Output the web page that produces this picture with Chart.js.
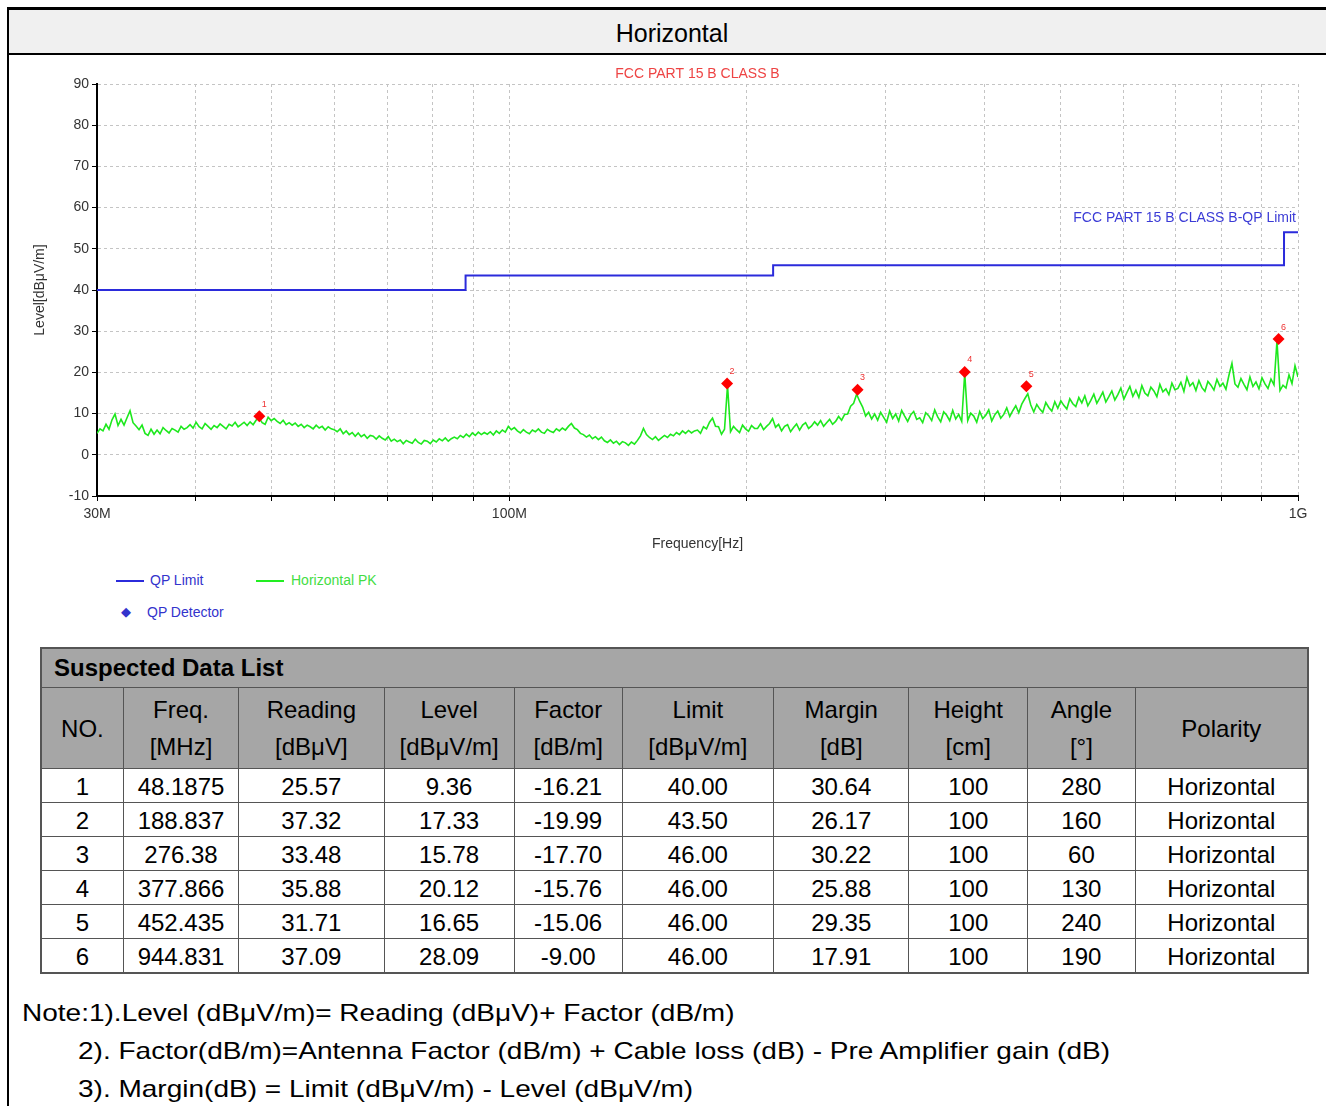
<!DOCTYPE html>
<html>
<head>
<meta charset="utf-8">
<script src="https://cdn.jsdelivr.net/npm/chart.js@4.4.1/dist/chart.umd.min.js"></script>
<style>
  body { margin: 0; width: 1326px; height: 1106px; overflow: hidden; background: #fff; position: relative;
         font-family: "Liberation Sans", Arial, sans-serif; }
  #frame { position: absolute; left: 7px; top: 7px; width: 1340px; height: 1200px;
           border-left: 2px solid #000; border-top: 3px solid #000; }
  #head { position: absolute; left: 9px; top: 10px; width: 1326px; height: 43px; background: #f0f0f0;
          border-bottom: 2px solid #000; text-align: center; font-size: 25px; line-height: 46px; color: #000; }
  #plot { position: absolute; left: 10px; top: 56px; width: 1316px; height: 500px; }
  .lg { position: absolute; font-size: 14px; color: #3333cc; white-space: nowrap; }
  .lgline { position: absolute; height: 2px; width: 28px; }
  #tbl { position: absolute; left: 40px; top: 647px; width: 1269px; border-collapse: collapse;
         font-size: 24px; color: #000; border: 2px solid #555; }
  #tbl td, #tbl th { border: 1px solid #555; text-align: center; padding: 0; font-weight: normal; }
  #tbl .cap { background: #a6a6a6; text-align: left; font-weight: bold; padding-left: 12px; height: 38px; }
  #tbl thead tr.hd th { background: #a6a6a6; height: 80px; line-height: 37px; }
  #tbl tbody td { height: 30px; line-height: 30px; padding-top: 3px; }
  .note { position: absolute; font-size: 24px; color: #000; white-space: nowrap;
          transform: scaleX(1.167); transform-origin: 0 0; }
</style>
</head>
<body>
<div id="frame"></div>
<div id="head">Horizontal</div>
<div id="plot"><canvas id="emi"></canvas></div>

<div class="lgline" style="left:116px;top:580px;background:#2b2bdb"></div>
<div class="lg" style="left:150px;top:572px">QP Limit</div>
<div class="lgline" style="left:256px;top:580px;background:#22ee22"></div>
<div class="lg" style="left:291px;top:572px;color:#44dd44">Horizontal PK</div>
<div class="lg" style="left:121px;top:604px;font-size:13px">&#9670;</div>
<div class="lg" style="left:147px;top:604px">QP Detector</div>

<table id="tbl">
  <thead>
    <tr><th class="cap" colspan="10">Suspected Data List</th></tr>
    <tr class="hd" id="tblHead"></tr>
  </thead>
  <tbody id="tblBody"></tbody>
</table>

<div class="note" style="left:22px;top:999px">Note:1).Level (dBμV/m)= Reading (dBμV)+ Factor (dB/m)</div>
<div class="note" style="left:78px;top:1037px">2). Factor(dB/m)=Antenna Factor (dB/m) + Cable loss (dB) - Pre Amplifier gain (dB)</div>
<div class="note" style="left:78px;top:1075px">3). Margin(dB) = Limit (dBμV/m) - Level (dBμV/m)</div>

<script>
// sweep at equal steps along the log frequency axis (MHz)
const pkStartMHz = 30;
const pkStopMHz = 1000;
const pkLevel = [
  5.2, 6.3, 5.8, 7.4, 6.2, 8.5, 9.9, 7.1, 8.6, 7.2, 9.0, 10.7, 7.8, 7.0, 6.1, 7.2, 5.2, 4.7, 6.2, 5.0,
  6.0, 5.1, 6.6, 5.9, 5.3, 6.4, 6.0, 5.5, 6.9, 6.2, 6.6, 7.3, 6.5, 7.9, 6.8, 6.3, 7.6, 6.9, 6.2, 7.1,
  6.6, 7.5, 6.9, 6.3, 7.4, 7.0, 7.9, 6.8, 7.3, 7.9, 7.1, 8.0, 7.3, 8.4, 8.9, 7.8, 7.4, 9.1, 8.3, 8.8,
  8.1, 7.6, 8.4, 7.3, 7.8, 7.2, 7.7, 6.9, 7.4, 6.6, 7.2, 6.8, 6.3, 7.2, 6.5, 6.9, 6.0, 6.8, 6.3, 6.1,
  5.6, 6.3, 5.1, 5.8, 4.9, 5.4, 4.5, 5.3, 4.4, 4.9, 4.0, 4.7, 4.5, 3.8, 4.6, 4.0, 3.6, 4.4, 3.3, 3.8,
  3.2, 3.6, 2.7, 3.5, 3.1, 2.8, 3.8, 3.0, 2.6, 3.5, 3.3, 2.7, 3.6, 3.1, 3.9, 3.4, 4.1, 3.3, 3.9, 4.3,
  3.9, 4.7, 4.2, 5.0, 4.4, 5.3, 4.7, 5.5, 4.9, 5.4, 5.0, 5.6, 4.8, 5.8, 5.2, 6.0, 5.5, 6.9, 6.1, 6.6,
  5.8, 5.3, 6.1, 5.5, 5.1, 6.0, 5.6, 6.3, 5.5, 5.2, 6.2, 5.7, 5.4, 6.3, 5.8, 6.5, 6.0, 6.9, 7.6, 6.5,
  6.1, 5.2, 4.9, 4.3, 4.8, 3.9, 4.4, 3.7, 4.3, 3.4, 3.0, 3.6, 2.8, 3.3, 2.5, 3.2, 2.9, 2.3, 3.1, 2.6,
  3.5, 4.6, 6.4, 4.9, 4.2, 3.7, 4.4, 3.5, 4.1, 4.7, 4.2, 5.0, 4.6, 5.4, 4.9, 5.8, 5.2, 5.9, 5.3, 5.8,
  6.0, 5.2, 6.8, 6.3, 7.9, 8.9, 6.9, 6.8, 5.0, 6.2, 16.8, 5.6, 6.9, 6.1, 5.4, 7.2, 6.3, 5.7, 7.1, 6.4,
  6.4, 7.5, 6.1, 6.9, 7.6, 8.8, 6.7, 7.4, 5.8, 6.9, 7.3, 5.6, 6.6, 7.5, 6.0, 7.2, 7.8, 6.4, 7.0, 8.0,
  7.2, 8.3, 6.9, 7.8, 8.6, 7.4, 8.1, 9.3, 8.4, 9.8, 9.9, 11.8, 12.5, 14.7, 13.0, 11.6, 9.4, 10.3, 8.7, 9.9,
  8.4, 10.3, 9.1, 7.9, 10.6, 8.8, 9.9, 8.2, 10.8, 9.4, 8.1, 9.7, 10.5, 8.6, 9.0, 7.8, 10.2, 9.5, 8.3, 10.9,
  9.2, 8.0, 10.4, 9.6, 8.3, 10.8, 8.7, 9.8, 8.1, 19.8, 8.3, 10.1, 9.4, 7.9, 10.5, 8.8, 9.6, 10.9, 8.2, 9.7,
  10.6, 8.9, 9.8, 11.4, 9.3, 10.7, 11.9, 10.2, 12.3, 13.6, 14.8, 12.1, 10.4, 12.2, 11.1, 10.3, 12.7, 11.5, 10.6, 12.9,
  11.3, 13.1, 12.0, 11.1, 13.6, 12.4, 11.7, 13.9, 12.6, 14.3, 11.9, 13.2, 14.7, 12.5, 13.8, 15.2, 12.8, 14.1, 15.5, 13.3,
  14.6, 16.2, 13.5, 15.1, 16.6, 14.2, 15.7, 13.9, 16.8, 15.0, 14.3, 16.4, 15.5, 14.1, 17.1, 15.3, 16.0, 14.6, 17.4, 15.8,
  16.1, 17.6, 15.4, 18.8, 16.7, 17.5, 15.6, 18.0, 16.3, 15.4, 17.8, 16.9, 15.7, 18.3, 16.6, 17.4, 15.9, 19.3, 22.2, 17.2,
  16.4, 18.5, 17.1, 15.8, 18.9, 16.6, 17.7, 16.0, 18.7, 17.2, 16.1, 18.4, 17.0, 27.6, 15.6, 16.9, 16.2, 19.4, 17.3, 21.6, 18.9
];

// QP limit steps (MHz, dBuV/m)
const limitFreq = [30, 88, 88, 216, 216, 960, 960, 1000];
const limitLevel = [40, 40, 43.5, 43.5, 46, 46, 54, 54];

// suspected points
const qpNo = [1, 2, 3, 4, 5, 6];
const qpFreq = [48.1875, 188.837, 276.38, 377.866, 452.435, 944.831];
const qpReading = ['25.57', '37.32', '33.48', '35.88', '31.71', '37.09'];
const qpLevel = [9.36, 17.33, 15.78, 20.12, 16.65, 28.09];
const qpFactor = ['-16.21', '-19.99', '-17.70', '-15.76', '-15.06', '-9.00'];
const qpLimit = ['40.00', '43.50', '46.00', '46.00', '46.00', '46.00'];
const qpMargin = ['30.64', '26.17', '30.22', '25.88', '29.35', '17.91'];
const qpHeight = [100, 100, 100, 100, 100, 100];
const qpAngle = [280, 160, 60, 130, 240, 190];
const qpPolarity = ['Horizontal', 'Horizontal', 'Horizontal', 'Horizontal', 'Horizontal', 'Horizontal'];

const xGridMHz = [30, 40, 50, 60, 70, 80, 90, 100, 200, 300, 400, 500, 600, 700, 800, 900, 1000];
const xLabelMHz = [30, 100, 1000];
const xLabelText = ['30M', '100M', '1G'];
const limitCaption = 'FCC PART 15 B CLASS B-QP Limit';
const limitCaptionLevel = 57.5;

const headTop = ['NO.', 'Freq.', 'Reading', 'Level', 'Factor', 'Limit', 'Margin', 'Height', 'Angle', 'Polarity'];
const headUnit = ['', '[MHz]', '[dBμV]', '[dBμV/m]', '[dB/m]', '[dBμV/m]', '[dB]', '[cm]', '[°]', ''];
const colWidth = [82, 115, 146, 130, 108, 152, 136, 119, 108, 173];

// table
let hd = '';
for (let i = 0; i < headTop.length; ++i) {
    let txt = headUnit[i] ? headTop[i] + '<br>' + headUnit[i] : headTop[i];
    hd += `<th style="width:${colWidth[i]}px">${txt}</th>`;
}
document.getElementById('tblHead').innerHTML = hd;
let rows = '';
for (let i = 0; i < qpNo.length; ++i) {
    rows += `<tr><td>${qpNo[i]}</td><td>${qpFreq[i]}</td><td>${qpReading[i]}</td><td>${qpLevel[i].toFixed(2)}</td>
        <td>${qpFactor[i]}</td><td>${qpLimit[i]}</td><td>${qpMargin[i]}</td><td>${qpHeight[i]}</td>
        <td>${qpAngle[i]}</td><td>${qpPolarity[i]}</td></tr>`;
}
document.getElementById('tblBody').innerHTML = rows;

// chart
const n = pkLevel.length;
const pkData = pkLevel.map((v, i) => ({
    x: pkStartMHz * Math.pow(pkStopMHz / pkStartMHz, i / (n - 1)),
    y: v
}));
const limitData = limitFreq.map((f, i) => ({x: f, y: limitLevel[i]}));
const qpData = qpFreq.map((f, i) => ({x: f, y: qpLevel[i]}));

const FONT = '"Liberation Sans", Arial, sans-serif';

const textPlugin = {
    id: 'texts',
    afterDatasetsDraw(chart) {
        const ctx = chart.ctx;
        const xs = chart.scales.x, ys = chart.scales.y;
        ctx.save();
        ctx.font = '14px ' + FONT;
        ctx.fillStyle = '#3b3bd6';
        ctx.textAlign = 'right';
        ctx.textBaseline = 'middle';
        ctx.fillText(limitCaption, chart.chartArea.right - 2, ys.getPixelForValue(limitCaptionLevel));
        ctx.font = '9px ' + FONT;
        ctx.fillStyle = '#ee3333';
        ctx.textAlign = 'center';
        for (let i = 0; i < qpFreq.length; ++i) {
            ctx.fillText(String(qpNo[i]), xs.getPixelForValue(qpFreq[i]) + 5, ys.getPixelForValue(qpLevel[i]) - 12);
        }
        ctx.restore();
    }
};

new Chart(document.getElementById('emi'), {
    type: 'line',
    data: {
        datasets: [{
            label: 'QP Detector',
            data: qpData,
            showLine: false,
            pointStyle: 'rectRot',
            pointRadius: 6,
            backgroundColor: '#ff0000',
            borderColor: '#ff0000',
            borderWidth: 0
        }, {
            label: 'QP Limit',
            data: limitData,
            borderColor: '#2b2bdb',
            borderWidth: 2,
            pointRadius: 0,
            fill: false
        }, {
            label: 'Horizontal PK',
            data: pkData,
            borderColor: '#1ee81e',
            borderWidth: 1.6,
            pointRadius: 0,
            fill: false
        }]
    },
    options: {
        responsive: true,
        maintainAspectRatio: false,
        animation: false,
        layout: {padding: {left: 0, right: 28, top: 0, bottom: 0}},
        plugins: {
            legend: {display: false},
            tooltip: {enabled: false},
            title: {
                display: true,
                text: 'FCC PART 15 B CLASS B',
                color: '#ee4444',
                fullSize: false,
                font: {family: FONT, size: 14, weight: 'normal'},
                padding: {top: 10, bottom: 1.2}
            }
        },
        scales: {
            x: {
                type: 'logarithmic',
                min: 30,
                max: 1000,
                afterBuildTicks: (s) => { s.ticks = xGridMHz.map(v => ({value: v})); },
                afterFit: (s) => { s.height = 60; },
                ticks: {
                    autoSkip: false,
                    maxRotation: 0,
                    padding: 5,
                    color: '#333',
                    font: {family: FONT, size: 14},
                    callback: (v, i, t) => {
                        let k = xLabelMHz.indexOf(t[i].value);
                        return k >= 0 ? xLabelText[k] : '';
                    }
                },
                grid: {color: '#c4c4c4', tickColor: '#000', tickLength: 5},
                border: {color: '#000', width: 2, dash: [3, 3]},
                title: {
                    display: true,
                    text: 'Frequency[Hz]',
                    color: '#333',
                    font: {family: FONT, size: 14},
                    padding: {top: 0, bottom: 3}
                }
            },
            y: {
                min: -10,
                max: 90,
                afterFit: (s) => { s.width = 87; },
                ticks: {
                    stepSize: 10,
                    padding: 3,
                    color: '#333',
                    font: {family: FONT, size: 14}
                },
                grid: {color: '#c4c4c4', tickColor: '#000', tickLength: 5},
                border: {color: '#000', width: 2, dash: [3, 3]},
                title: {
                    display: true,
                    text: 'Level[dBμV/m]',
                    color: '#333',
                    font: {family: FONT, size: 14},
                    padding: {top: 22, bottom: 0}
                }
            }
        }
    },
    plugins: [textPlugin]
});
</script>
</body>
</html>
